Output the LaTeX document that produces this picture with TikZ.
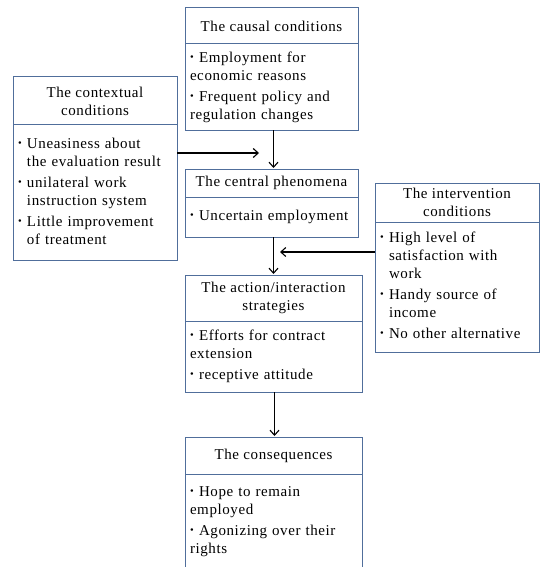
\documentclass[tikz,border=0pt]{standalone}
\usepackage{graphicx}
\usepackage{fontspec}
\setmainfont[LetterSpace=4]{Liberation Serif}
\usetikzlibrary{arrows.meta}
\definecolor{boxline}{RGB}{80,110,155}
\newcommand{\bl}{\makebox[9pt][l]{\raisebox{0.25ex}{\scalebox{0.7}{•}}}}
\newcommand{\nb}{\hspace*{9pt}}

\begin{document}
\begin{tikzpicture}[x=1pt,y=-1pt,
  every node/.style={outer sep=0pt,inner ysep=0pt,font=\fontsize{15}{18}\selectfont},
  head/.style={draw=boxline,line width=1pt,inner xsep=0pt,align=center,anchor=north west},
  body/.style={draw=boxline,line width=1pt,inner xsep=5pt,align=left,anchor=north west},
  flow/.style={-{Straight Barb[length=5pt,width=9pt]},line width=1.1pt,shorten >=1pt}]
\useasboundingbox (0,0) rectangle (540,567);

\node[head,minimum width=173pt,minimum height=36pt] (cau-t) at (185,8) {The causal conditions};
\node[body,text width=163pt,minimum height=86pt] (cau-b) at (cau-t.south west)
  {\begin{tabular}{@{}l@{}}\bl Employment for\\ economic reasons\\[3pt] \bl Frequent policy and\\ regulation changes\end{tabular}};

\node[head,minimum width=164pt,minimum height=48pt] (ctx-t) at (13,77) {The contextual\\ conditions};
\node[body,text width=154pt,minimum height=135pt] (ctx-b) at (ctx-t.south west)
  {\begin{tabular}{@{}l@{}}\bl Uneasiness about\\ \nb the evaluation result\\[3pt] \bl unilateral work\\ \nb instruction system\\[3pt] \bl Little improvement\\ \nb of treatment\end{tabular}};

\node[head,minimum width=173pt,minimum height=28pt] (cen-t) at (185,169) {The central phenomena};
\node[body,text width=163pt,minimum height=40pt] (cen-b) at (cen-t.south west)
  {\begin{tabular}{@{}l@{}}\bl Uncertain employment\end{tabular}};

\node[head,minimum width=164pt,minimum height=39pt] (int-t) at (375,183) {The intervention\\ conditions};
\node[body,text width=154pt,minimum height=130pt] (int-b) at (int-t.south west)
  {\begin{tabular}{@{}l@{}}\bl High level of\\ \nb satisfaction with\\ \nb work\\[3pt] \bl Handy source of\\ \nb income\\[3pt] \bl No other alternative\end{tabular}};

\node[head,minimum width=177pt,minimum height=46pt] (act-t) at (185,275) {The action/interaction\\ strategies};
\node[body,text width=167pt,minimum height=71pt] (act-b) at (act-t.south west)
  {\begin{tabular}{@{}l@{}}\bl Efforts for contract\\ extension\\[3pt] \bl receptive attitude\end{tabular}};

\node[head,minimum width=177pt,minimum height=37pt] (con-t) at (185,437) {The consequences};
\node[body,text width=167pt,minimum height=94pt] (con-b) at (con-t.south west)
  {\begin{tabular}{@{}l@{}}\bl Hope to remain\\ employed\\[3pt] \bl Agonizing over their\\ rights\end{tabular}};

\coordinate (m1) at (260,153);
\coordinate (m2) at (279,252);
\draw[flow] (ctx-b.east |- m1) -- (m1);
\draw[flow] ([xshift=2pt]cau-b.south) -- ([xshift=2pt]cen-t.north);
\draw[flow] (int-b.west |- m2) -- (m2);
\draw[flow] (cen-b.south -| act-t.north) -- (act-t.north);
\draw[flow] ([xshift=1pt]act-b.south) -- ([xshift=1pt]con-t.north);
\end{tikzpicture}
\end{document}
